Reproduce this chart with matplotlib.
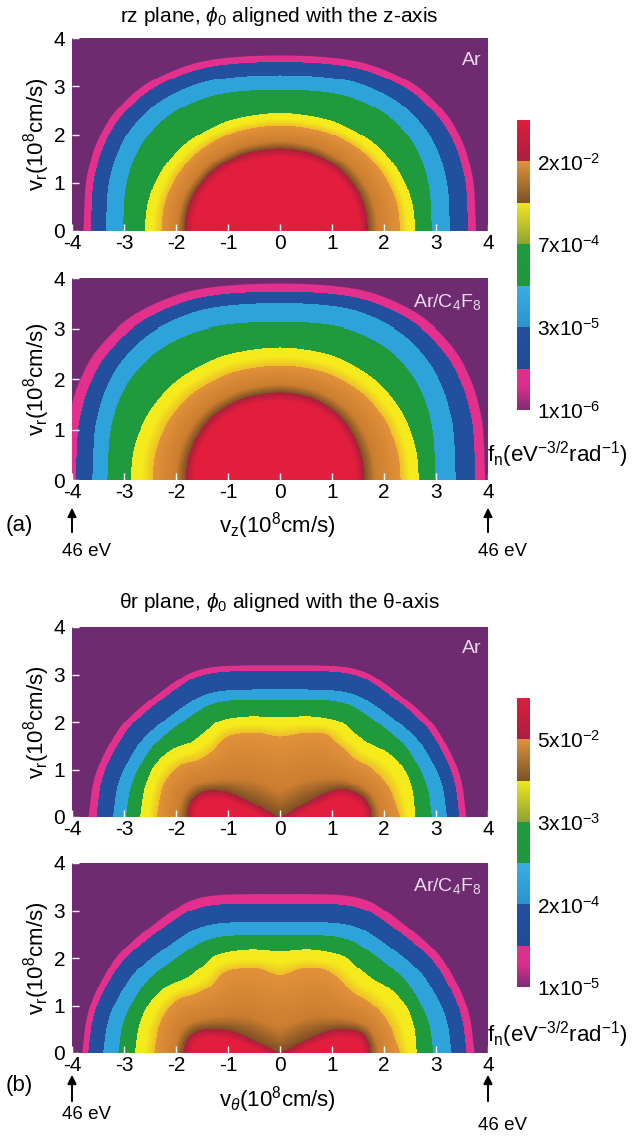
"""
f_n velocity-space contours: rz plane (a) and theta-r plane (b), Ar vs Ar/C4F8.
Each coloured band is bounded by a contour read off the original figure.
"""

import numpy as np
import matplotlib
matplotlib.use("Agg")
import matplotlib.pyplot as plt
from matplotlib.path import Path
from matplotlib.colors import LinearSegmentedColormap, Normalize
from matplotlib.cm import ScalarMappable
from matplotlib.transforms import blended_transform_factory

# ================= CONFIGURATION =================
W, H = 638, 1138
PX_X, PX_Y = 52.0, 48.0          # pixels per 10^8 cm/s, used for band shading
RED_RAMP_PX = 16.0
NX, NY = 416, 200

PURPLE = "#6e2b70"
MAGENTA = "#e2308c"
DBLUE = "#22509e"
LBLUE = "#2ea3db"
GREEN = "#1f9b3e"
YELLOW = "#f4ea1c"
YELLOW_IN = "#eebf2a"
ORANGE = "#e2923a"
ORANGE_IN = "#cc7e30"
BROWN = "#7c5024"
CRIMSON = "#a8203e"
RED = "#e31d3c"
LABEL_PINK = "#eadbe9"
# =================================================

# ---- contour data, outermost level -> innermost (units 10^8 cm/s) ----
# rz plane: rounded contours, normalised arc shapes + crossings of v_r = 0 and top heights
RZ_ARC_U = [0.0, 0.3, 0.5, 0.7, 0.85, 0.93, 0.97, 0.99, 1.0]
RZ_OUTER_V = [1.0, 0.983, 0.933, 0.824, 0.664, 0.508, 0.371, 0.245, 0.0]   # first four levels
RZ_INNER_V = [1.0, 0.96, 0.88, 0.74, 0.555, 0.395, 0.27, 0.16, 0.0]        # last three levels

RZ_AR_LEFT = [-3.79, -3.64, -3.35, -3.02, -2.60, -2.28, -1.83]
RZ_AR_RIGHT = [3.78, 3.62, 3.27, 2.92, 2.60, 2.31, 1.69]
RZ_AR_TOP = [3.64, 3.50, 3.23, 2.93, 2.44, 2.19, 1.71]

RZ_MIX_LEFT = [-4.15, -3.93, -3.61, -3.32, -2.87, -2.45, -1.81]
RZ_MIX_RIGHT = [3.96, 3.76, 3.38, 2.99, 2.67, 2.32, 1.62]
RZ_MIX_TOP = [3.90, 3.73, 3.50, 3.13, 2.63, 2.27, 1.73]

# theta-r plane: four outer contours share a flat-topped arc, inner three are traced
TR_ARC_U = [0.0, 0.3, 0.45, 0.55, 0.65, 0.75, 0.83, 0.9, 0.95, 0.98, 1.0]
TR_ARC_V = [1.0, 0.995, 0.96, 0.89, 0.8, 0.7, 0.6, 0.46, 0.33, 0.2, 0.0]

TR_AR_LEFT = [-3.69, -3.53, -3.21, -2.96]
TR_AR_RIGHT = [3.59, 3.45, 3.21, 2.92]
TR_AR_TOP = [3.18, 3.06, 2.67, 2.45]
TR_AR_GREEN_X = [-2.69, -2.6, -2.4, -2.1, -1.75, -1.45, -1.15, -0.6, 0.0, 0.6, 1.15, 1.45, 1.75, 2.1, 2.4, 2.55, 2.6]
TR_AR_GREEN_Y = [0.0, 0.62, 1.1, 1.4, 1.55, 1.78, 2.02, 2.11, 2.09, 2.11, 2.0, 1.75, 1.52, 1.33, 0.98, 0.55, 0.0]
TR_AR_YELLOW_X = [-2.37, -2.24, -1.92, -1.55, -1.28, -1.06, -0.78, -0.4, 0.0, 0.45, 0.88, 1.15, 1.45, 1.78, 2.1, 2.31]
TR_AR_YELLOW_Y = [0.0, 0.68, 1.08, 1.21, 1.4, 1.66, 1.75, 1.76, 1.69, 1.76, 1.74, 1.5, 1.22, 1.0, 0.62, 0.0]
TR_AR_ORANGE_X = [-1.79, -1.72, -1.5, -1.2, -0.95, -0.5, -0.12, 0.0, 0.12, 0.5, 1.0, 1.3, 1.6, 1.73, 1.76]
TR_AR_ORANGE_Y = [0.0, 0.32, 0.52, 0.55, 0.5, 0.28, 0.05, 0.0, 0.05, 0.3, 0.55, 0.57, 0.42, 0.2, 0.0]

TR_MIX_LEFT = [-3.81, -3.69, -3.40, -3.11]
TR_MIX_RIGHT = [3.75, 3.59, 3.30, 2.95]
TR_MIX_TOP = [3.35, 3.15, 2.76, 2.48]
TR_MIX_GREEN_X = [-2.79, -2.7, -2.48, -2.15, -1.8, -1.5, -1.2, -0.6, 0.0, 0.6, 1.2, 1.5, 1.8, 2.12, 2.42, 2.58, 2.63]
TR_MIX_GREEN_Y = [0.0, 0.62, 1.1, 1.42, 1.58, 1.82, 2.07, 2.17, 2.14, 2.17, 2.05, 1.8, 1.55, 1.35, 1.0, 0.55, 0.0]
TR_MIX_YELLOW_X = [-2.42, -2.3, -2.0, -1.62, -1.32, -1.1, -0.8, -0.4, 0.0, 0.4, 0.8, 1.1, 1.4, 1.75, 2.08, 2.31]
TR_MIX_YELLOW_Y = [0.0, 0.66, 1.1, 1.25, 1.42, 1.68, 1.77, 1.77, 1.64, 1.77, 1.77, 1.6, 1.28, 1.05, 0.66, 0.0]
TR_MIX_ORANGE_X = [-1.86, -1.78, -1.55, -1.2, -0.9, -0.5, -0.12, 0.0, 0.12, 0.5, 0.95, 1.3, 1.58, 1.72, 1.73]
TR_MIX_ORANGE_Y = [0.0, 0.3, 0.47, 0.5, 0.45, 0.27, 0.05, 0.0, 0.05, 0.28, 0.47, 0.5, 0.42, 0.2, 0.0]

# colour-bar labels sit on every second contour level
LEVEL_TICKS = [0, 2, 4, 6]
CBAR_LABELS_A = ["1x10$^{-6}$", "3x10$^{-5}$", "7x10$^{-4}$", "2x10$^{-2}$"]
CBAR_LABELS_B = ["1x10$^{-5}$", "2x10$^{-4}$", "3x10$^{-3}$", "5x10$^{-2}$"]
X_TICKS = [-4, -3, -2, -1, 0, 1, 2, 3, 4]
Y_TICKS = [0, 1, 2, 3, 4]
ARROW_X = [-4, 4]

FIELD_STOPS = [
    (0.0, PURPLE), (0.12, MAGENTA), (1.0, MAGENTA),
    (1.0, DBLUE), (2.0, DBLUE),
    (2.0, LBLUE), (3.0, LBLUE),
    (3.0, GREEN), (4.0, GREEN),
    (4.0, YELLOW), (4.5, YELLOW), (5.0, YELLOW_IN),
    (5.0, ORANGE), (5.7, ORANGE_IN), (6.0, BROWN),
    (6.0, CRIMSON), (6.5, RED), (7.0, RED),
]
BAR_STOPS = [
    (0.0, "#7b2d78"), (0.55, "#d82e8a"), (1.0, MAGENTA),
    (1.0, "#1f4c98"), (2.0, "#22509e"),
    (2.0, "#2a92d0"), (3.0, "#38aee6"),
    (3.0, "#22963c"), (4.0, "#1f9b3e"),
    (4.0, "#8ea232"), (5.0, "#f2e620"),
    (5.0, "#7a5226"), (6.0, "#e0923a"),
    (6.0, "#a82040"), (7.0, "#e01c3c"),
]

plt.rcParams.update({
    "font.family": ["Liberation Sans", "DejaVu Sans"],
    "mathtext.fontset": "custom",
    "mathtext.rm": "Liberation Sans",
    "mathtext.it": "Liberation Sans:italic",
    "mathtext.bf": "Liberation Sans:bold",
})


def px_rect(left, top, right, bottom):
    """Figure-fraction rectangle from pixel edges."""
    return [left / W, 1 - bottom / H, (right - left) / W, (bottom - top) / H]


def arc(left, right, top, u, v):
    u, v = np.asarray(u), np.asarray(v)
    xs = np.concatenate([left * u[::-1], right * u[1:]])
    ys = np.concatenate([top * v[::-1], top * v[1:]])
    return xs, ys


def smooth(xs, ys, n=10):
    """Catmull-Rom through the read points (rendering only)."""
    p = np.column_stack([xs, ys]).astype(float)
    p = np.vstack([p[0], p, p[-1]])
    t = np.linspace(0, 1, n, endpoint=False)[:, None]
    out = []
    for i in range(1, len(p) - 2):
        p0, p1, p2, p3 = p[i - 1], p[i], p[i + 1], p[i + 2]
        out.append(0.5 * (2 * p1 + (p2 - p0) * t
                          + (2 * p0 - 5 * p1 + 4 * p2 - p3) * t ** 2
                          + (3 * p1 - p0 - 3 * p2 + p3) * t ** 3))
    out.append(p[-2][None, :])
    return np.vstack(out)


def seg_distance(X, Y, c):
    """Pixel distance from every grid cell to the polyline c."""
    d2 = np.full(X.shape, np.inf)
    for (ax_, ay_), (bx, by) in zip(c[:-1], c[1:]):
        dx, dy = (bx - ax_) * PX_X, (by - ay_) * PX_Y
        xp, yp = (X - ax_) * PX_X, (Y - ay_) * PX_Y
        ll = dx * dx + dy * dy
        t = np.clip((xp * dx + yp * dy) / ll, 0, 1) if ll > 0 else 0.0
        d2 = np.minimum(d2, (xp - t * dx) ** 2 + (yp - t * dy) ** 2)
    return np.sqrt(d2)


def band_field(curves):
    """Band index + position inside the band, for every grid cell."""
    xc = np.linspace(-4, 4, NX, endpoint=False) + 4.0 / NX
    yc = np.linspace(0, 4, NY, endpoint=False) + 2.0 / NY
    X, Y = np.meshgrid(xc, yc)
    pts = np.column_stack([X.ravel(), Y.ravel()])
    inside, dist = [], []
    for c in curves:
        poly = np.vstack([c, [[c[-1, 0], -1.0], [c[0, 0], -1.0]]])
        inside.append(Path(poly).contains_points(pts).reshape(X.shape))
        dist.append(seg_distance(X, Y, c))
    n = np.sum(inside, axis=0)
    s = np.zeros(X.shape)
    for b in range(len(curves) - 1):
        m = n == b + 1
        s[m] = b + dist[b][m] / (dist[b][m] + dist[b + 1][m] + 1e-9)
    m = n == len(curves)
    s[m] = len(curves) - 1 + np.clip(dist[-1][m] / RED_RAMP_PX, 0, 1)
    return s


def rz_curves(left, right, top):
    curves = []
    for k, (l, r, t) in enumerate(zip(left, right, top)):
        v = RZ_OUTER_V if k < 4 else RZ_INNER_V
        curves.append(smooth(*arc(l, r, t, RZ_ARC_U, v)))
    return curves


def tr_curves(left, right, top, traced):
    curves = [smooth(*arc(l, r, t, TR_ARC_U, TR_ARC_V)) for l, r, t in zip(left, right, top)]
    return curves + [smooth(xs, ys) for xs, ys in traced]


field_cmap = LinearSegmentedColormap.from_list("fn", [(p / 7, c) for p, c in FIELD_STOPS], N=2048)
bar_cmap = LinearSegmentedColormap.from_list("fnbar", [(p / 7, c) for p, c in BAR_STOPS], N=2048)
norm = Normalize(0, 7)

fig = plt.figure(figsize=(W / 100, H / 100), dpi=100, facecolor="white")

panels = [
    (px_rect(72, 38, 488, 231), rz_curves(RZ_AR_LEFT, RZ_AR_RIGHT, RZ_AR_TOP), "Ar"),
    (px_rect(72, 278, 488, 480), rz_curves(RZ_MIX_LEFT, RZ_MIX_RIGHT, RZ_MIX_TOP), "Ar/C$_4$F$_8$"),
    (px_rect(72, 627, 488, 817), tr_curves(TR_AR_LEFT, TR_AR_RIGHT, TR_AR_TOP,
                                           [(TR_AR_GREEN_X, TR_AR_GREEN_Y),
                                            (TR_AR_YELLOW_X, TR_AR_YELLOW_Y),
                                            (TR_AR_ORANGE_X, TR_AR_ORANGE_Y)]), "Ar"),
    (px_rect(72, 863, 488, 1053), tr_curves(TR_MIX_LEFT, TR_MIX_RIGHT, TR_MIX_TOP,
                                            [(TR_MIX_GREEN_X, TR_MIX_GREEN_Y),
                                             (TR_MIX_YELLOW_X, TR_MIX_YELLOW_Y),
                                             (TR_MIX_ORANGE_X, TR_MIX_ORANGE_Y)]), "Ar/C$_4$F$_8$"),
]

axes = []
for rect, curves, gas in panels:
    ax = fig.add_axes(rect)
    ax.imshow(band_field(curves), extent=(-4, 4, 0, 4), origin="lower", aspect="auto",
              cmap=field_cmap, norm=norm, interpolation="nearest")
    ax.set_xlim(-4, 4)
    ax.set_ylim(0, 4)
    ax.set_xticks(X_TICKS)
    ax.set_xticklabels([str(v) for v in X_TICKS])
    ax.set_yticks(Y_TICKS)
    ax.set_yticklabels([str(v) for v in Y_TICKS])
    ax.tick_params(direction="in", color="white", length=5, width=1, labelsize=15)
    ax.tick_params(axis="x", pad=2)
    ax.tick_params(axis="y", pad=5)
    for sp in ax.spines.values():
        sp.set_visible(False)
    ax.text(0.985, 0.93, gas, transform=ax.transAxes, ha="right", va="top",
            color=LABEL_PINK, fontsize=14)
    ax.text(-0.086, 0.5, r"v$_\mathrm{r}$(10$^8$cm/s)", transform=ax.transAxes, rotation=90,
            ha="center", va="center", fontsize=16)
    axes.append(ax)

# titles
fig.text(279 / W, 1 - 17 / H, r"rz plane, $\phi_0$ aligned with the z-axis",
         ha="center", va="center", fontsize=15)
fig.text(279 / W, 1 - 602 / H, r"θr plane, $\phi_0$ aligned with the θ-axis",
         ha="center", va="center", fontsize=15)

# x labels and panel tags
axes[1].text(0.493, -0.225, r"v$_\mathrm{z}$(10$^8$cm/s)", transform=axes[1].transAxes,
             ha="center", va="center", fontsize=16)
axes[3].text(0.493, -0.245, r"v$_\theta$(10$^8$cm/s)", transform=axes[3].transAxes,
             ha="center", va="center", fontsize=16)
fig.text(19 / W, 1 - 525 / H, "(a)", ha="center", va="center", fontsize=16)
fig.text(19 / W, 1 - 1085 / H, "(b)", ha="center", va="center", fontsize=16)

# 46 eV arrows at the velocity-axis ends
arrow_layout = [(axes[1], -0.124, -0.272, [-0.356, -0.356]),
                (axes[3], -0.10, -0.268, [-0.326, -0.384])]
for ax, tip, tail, text_y in arrow_layout:
    trans = blended_transform_factory(ax.transData, ax.transAxes)
    for xv, ty in zip(ARROW_X, text_y):
        ax.annotate("", xy=(xv, tip), xytext=(xv, tail), xycoords=trans, textcoords=trans,
                    arrowprops=dict(arrowstyle="-|>", color="black", lw=1.4, mutation_scale=13),
                    annotation_clip=False)
        ax.text(xv + 0.28, ty, "46 eV", transform=trans, ha="center", va="center",
                fontsize=13.5, clip_on=False)

# colour bars
for rect, labels, fy in [(px_rect(517, 120, 530, 410), CBAR_LABELS_A, 455),
                         (px_rect(517, 698, 530, 987), CBAR_LABELS_B, 1035)]:
    cax = fig.add_axes(rect)
    cb = fig.colorbar(ScalarMappable(norm=norm, cmap=bar_cmap), cax=cax, ticks=LEVEL_TICKS)
    cb.ax.set_yticklabels(labels)
    cb.ax.tick_params(length=0, labelsize=15, pad=5)
    cb.outline.set_visible(False)
    fig.text(487 / W, 1 - fy / H, r"f$_\mathrm{n}$(eV$^{-3/2}$rad$^{-1}$)", ha="left", va="center",
             fontsize=16)

fig.savefig("out.png", dpi=100, facecolor="white")
plt.close(fig)
